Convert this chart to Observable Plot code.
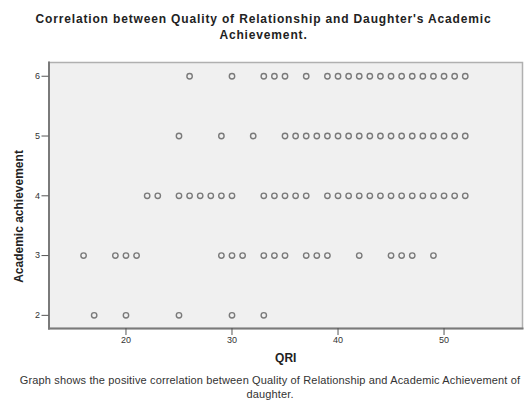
<!DOCTYPE html>
<html>
<head>
<meta charset="utf-8">
<script src="https://cdn.jsdelivr.net/npm/d3@7"></script>
<script src="https://cdn.jsdelivr.net/npm/@observablehq/plot@0.6"></script>
<style>
  body { margin: 0; background: #fff; width: 527px; height: 400px; overflow: hidden; font-family: "Liberation Sans", Arial, sans-serif; }
  #title { height: 48px; box-sizing: border-box; padding-top: 11px; text-align: center; font-weight: bold; font-size: 12px; line-height: 16px; letter-spacing: 0.85px; color: #222; white-space: nowrap; }
  #caption { position: absolute; top: 374px; left: 0; width: 540px; text-align: center; font-size: 11px; line-height: 13.5px; letter-spacing: 0.15px; color: #333; white-space: nowrap; }
  #chart { position: absolute; top: 48px; left: 0; }
</style>
</head>
<body>
<div id="title">Correlation between Quality of Relationship and Daughter's Academic<br>Achievement.</div>
<div id="chart"></div>
<div id="caption">Graph shows the positive correlation between Quality of Relationship and Academic Achievement of<br>daughter.</div>
<script>
// QRI values observed at each academic achievement level
const achievementLevels = [6, 5, 4, 3, 2];
const qriAt6 = [26, 30, 33, 34, 35, 37, 39, 40, 41, 42, 43, 44, 45, 46, 47, 48, 49, 50, 51, 52];
const qriAt5 = [25, 29, 32, 35, 36, 37, 38, 39, 40, 41, 42, 43, 44, 45, 46, 47, 48, 49, 50, 51, 52];
const qriAt4 = [22, 23, 25, 26, 27, 28, 29, 30, 33, 34, 35, 36, 37, 39, 40, 41, 42, 43, 44, 45, 46, 47, 48, 49, 50, 51, 52];
const qriAt3 = [16, 19, 20, 21, 29, 30, 31, 33, 34, 35, 37, 38, 39, 42, 45, 46, 47, 49];
const qriAt2 = [17, 20, 25, 30, 33];
const xTicks = [20, 30, 40, 50];
const yTicks = [2, 3, 4, 5, 6];

const rows = [qriAt6, qriAt5, qriAt4, qriAt3, qriAt2];
const data = [];
rows.forEach((vals, i) => vals.forEach(q => data.push({qri: q, ach: achievementLevels[i]})));

const chart = Plot.plot({
  width: 527,
  height: 322,
  marginTop: 14,
  marginBottom: 42,
  marginLeft: 48.5,
  marginRight: 5,
  style: { fontFamily: "'Liberation Sans', Arial, sans-serif", fontSize: "9px", color: "#333", background: "transparent" },
  x: { domain: [12.74, 57.4] },
  y: { domain: [1.78, 6.23] },
  marks: [
    Plot.frame({ fill: "#f0f0f0", stroke: "#b0b0b0", strokeWidth: 1.5 }),
    Plot.frame({ anchor: "left", stroke: "#7a7a7a", strokeWidth: 2 }),
    Plot.frame({ anchor: "bottom", stroke: "#7a7a7a", strokeWidth: 2 }),
    Plot.axisY({ ticks: yTicks, tickSize: 7, tickPadding: 2, label: null, tickFormat: d3.format("d"), stroke: "#555" }),
    Plot.axisX({ ticks: xTicks, tickSize: 7, tickPadding: 1, label: null, tickFormat: d3.format("d"), stroke: "#555" }),
    Plot.dot(data, { x: "qri", y: "ach", r: 2.7, stroke: "#7a7a7a", strokeWidth: 1.4, fill: "none" }),
    Plot.text(["Academic achievement"], { frameAnchor: "left", textAnchor: "middle", dx: -30, dy: 21, rotate: -90, fontWeight: "bold", fontSize: 12, fill: "#222" }),
    Plot.text(["QRI"], { frameAnchor: "bottom", dy: 33, fontWeight: "bold", fontSize: 12, fill: "#222" })
  ]
});
document.getElementById("chart").appendChild(chart);
</script>
</body>
</html>
